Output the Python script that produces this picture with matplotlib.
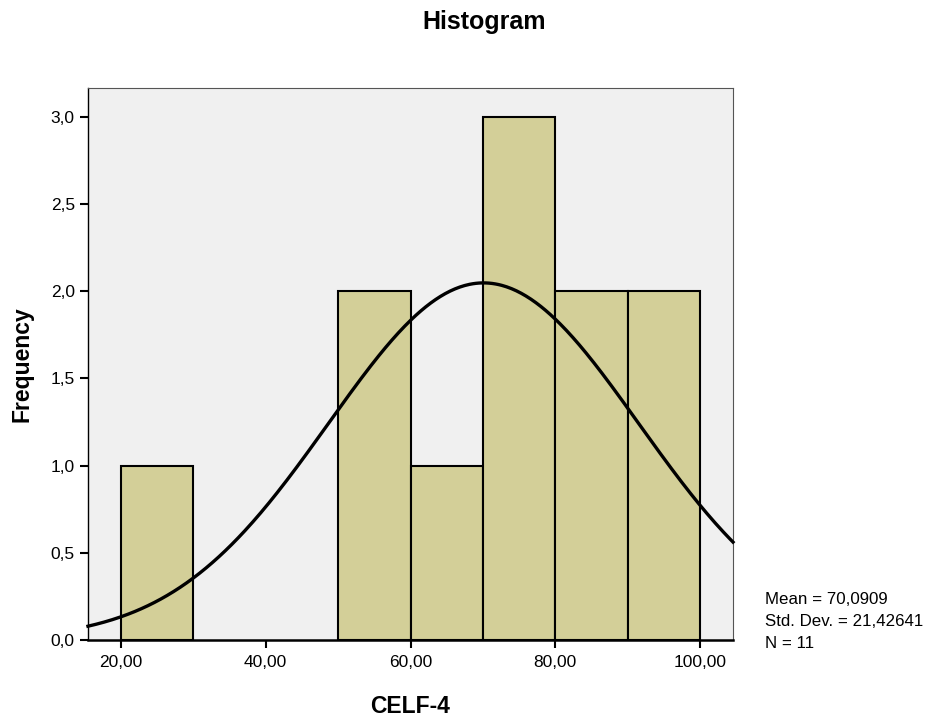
import numpy as np
import matplotlib
matplotlib.use('Agg')
import matplotlib.pyplot as plt
from matplotlib.ticker import FuncFormatter

plt.rcParams['font.family'] = ['Liberation Sans', 'DejaVu Sans']

# histogram bins and counts
bin_edges = [20, 30, 40, 50, 60, 70, 80, 90, 100]
counts = [1, 0, 0, 2, 1, 3, 2, 2]
mean = 70.0909
sd = 21.42641
n = 11
x_ticks = [20, 40, 60, 80, 100]
y_ticks = [0.0, 0.5, 1.0, 1.5, 2.0, 2.5, 3.0]


def comma(v, digits):
    return f'{v:.{digits}f}'.replace('.', ',')


fig = plt.figure(figsize=(9.28, 7.2), dpi=100)
ax = fig.add_axes([0.0948, 0.1111, 0.6951, 0.7667])
ax.set_facecolor('#f0f0f0')

widths = np.diff(bin_edges)
for left, w, c in zip(bin_edges[:-1], widths, counts):
    if c > 0:
        ax.bar(left, c, width=w, align='edge', color='#d3cf98',
               edgecolor='black', linewidth=1.5, zorder=2)

xmin, xmax = 15.44, 104.56
xs = np.linspace(xmin, xmax, 400)
bw = 10
ys = n * bw / (sd * np.sqrt(2 * np.pi)) * np.exp(-0.5 * ((xs - mean) / sd) ** 2)
ax.plot(xs, ys, color='black', linewidth=2.4, zorder=3, clip_on=False)

ax.set_xlim(xmin, xmax)
ax.set_ylim(0, 3.166)
ax.set_xticks(x_ticks)
ax.set_yticks(y_ticks)
ax.xaxis.set_major_formatter(FuncFormatter(lambda v, p: comma(v, 2)))
ax.yaxis.set_major_formatter(FuncFormatter(lambda v, p: comma(v, 1)))
ax.tick_params(axis='both', direction='out', length=6, width=1.5, labelsize=12.5, colors='black')
ax.tick_params(axis='x', pad=5)

for s in ['top', 'right']:
    ax.spines[s].set_color('#555555')
    ax.spines[s].set_linewidth(0.8)
ax.spines['left'].set_linewidth(1.0)
ax.spines['bottom'].set_linewidth(1.8)

ax.set_xlabel('CELF-4', fontsize=16.5, fontweight='bold', labelpad=18)
ax.set_ylabel('Frequency', fontsize=16.5, fontweight='bold', labelpad=12)
fig.text(0.5216, 1 - 22 / 720, 'Histogram', ha='center', va='center', fontsize=18, fontweight='bold')

stats = ['Mean = ' + comma(mean, 4), 'Std. Dev. = ' + comma(sd, 5), f'N = {n}']
for line, ypx in zip(stats, [600, 622, 643]):
    fig.text(765 / 928, 1 - ypx / 720, line, fontsize=12.2, va='center')

plt.savefig('out.png', dpi=100, facecolor='white')
